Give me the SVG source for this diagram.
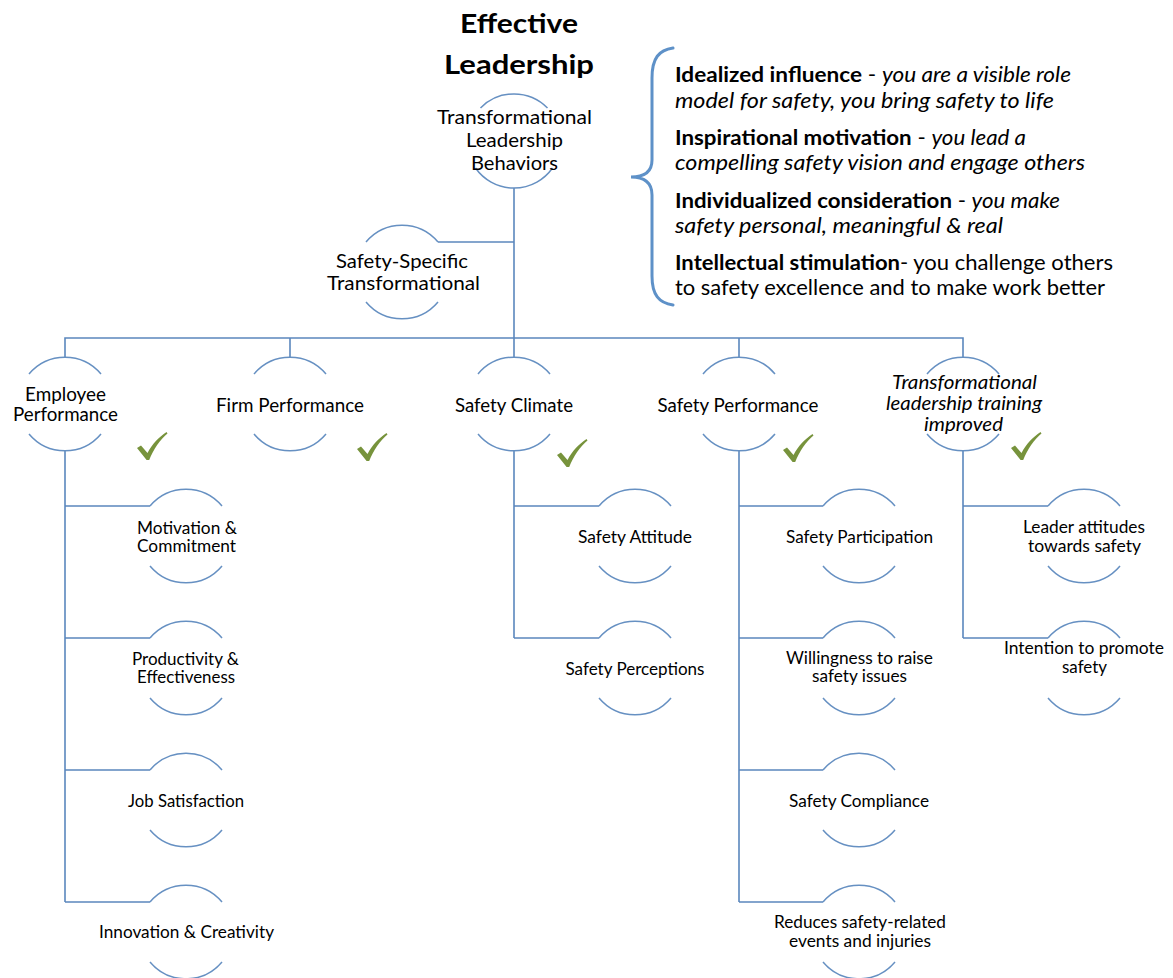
<svg xmlns="http://www.w3.org/2000/svg" xmlns:xlink="http://www.w3.org/1999/xlink" width="1173" height="978" viewBox="0 0 1173 978">
<defs>
<style>
text{font-family:Lato,"Open Sans","Liberation Sans",sans-serif;fill:#000;text-anchor:middle}
.title{font-size:27px;font-weight:bold}
.top{font-size:19px}
.l1{font-size:18.5px}
.sub{font-size:16.5px}
.it{font-style:italic}
.desc{font-size:21px;text-anchor:start}
.b{font-weight:bold}
.arc{fill:none;stroke:#6690C2;stroke-width:1.5}
.conn{fill:none;stroke:#5B87BD;stroke-width:1.6}
.brace{fill:none;stroke:#5E91C8;stroke-width:3;stroke-linecap:round}
.check{fill:#77933C}
</style>
<path id="nodeArcs" class="arc" d="M-36,-30 A47,47 0 0 1 36,-30 M-36,30 A47,47 0 0 0 36,30"/>
<path id="tick" class="check" d="M0,16 L4,13.5 L10.5,21 C15,12 22,5 29.5,0 L30.5,1.5 C23,8 16.5,17 12.2,28 L9.6,28 Z"/>
</defs>
<rect width="1173" height="978" fill="#fff"/>

<g id="connectors">
<path class="conn" d="M514,188 V338"/>
<path class="conn" d="M438,242 H514"/>
<path class="conn" d="M65,357 V338 H963 V357"/>
<path class="conn" d="M290,338 V357 M514,338 V357 M739,338 V357"/>
<path class="conn" d="M65,451 V902 M65,506 H150 M65,638 H150 M65,770 H150 M65,902 H150"/>
<path class="conn" d="M514,451 V638 M514,506 H599 M514,638 H599"/>
<path class="conn" d="M739,451 V902 M739,506 H823 M739,638 H823 M739,770 H823 M739,902 H823"/>
<path class="conn" d="M963,451 V638 M963,506 H1048 M963,638 H1048"/>
</g>

<g id="title">
<text class="title" x="519" y="33" textLength="118" lengthAdjust="spacingAndGlyphs">Effective</text>
<text class="title" x="519" y="74" textLength="150" lengthAdjust="spacingAndGlyphs">Leadership</text>
</g>

<g id="node-tlb">
<path class="arc" d="M480.5,108 A47,47 0 0 1 547.5,108 M475.5,168 A47,47 0 0 0 552.5,168"/>
<text class="top" x="514.5" y="124" textLength="155" lengthAdjust="spacingAndGlyphs">Transformational</text>
<text class="top" x="514.5" y="147" textLength="97" lengthAdjust="spacingAndGlyphs">Leadership</text>
<text class="top" x="514.5" y="170" textLength="87" lengthAdjust="spacingAndGlyphs">Behaviors</text>
</g>

<g id="node-sst">
<use xlink:href="#nodeArcs" href="#nodeArcs" x="402" y="272"/>
<text class="top" x="402" y="268" textLength="132" lengthAdjust="spacingAndGlyphs">Safety-Specific</text>
<text class="top" x="403.5" y="290" textLength="153" lengthAdjust="spacingAndGlyphs">Transformational</text>
</g>

<g id="brace">
<path class="brace" d="M673,48 C659,50 652,58 652,78 L652,160 C652,171 645,177 631,177 C645,177 652,183 652,195 L652,276 C652,295 659,303 673,305"/>
<text class="desc" x="675" y="82" textLength="396" lengthAdjust="spacingAndGlyphs"><tspan class="b">Idealized influence</tspan> - <tspan class="it">you are a visible role</tspan></text>
<text class="desc it" x="675" y="108" textLength="379" lengthAdjust="spacingAndGlyphs">model for safety, you bring safety to life</text>
<text class="desc" x="675" y="145" textLength="351" lengthAdjust="spacingAndGlyphs"><tspan class="b">Inspirational motivation</tspan> - <tspan class="it">you lead a</tspan></text>
<text class="desc it" x="675" y="170" textLength="410" lengthAdjust="spacingAndGlyphs">compelling safety vision and engage others</text>
<text class="desc" x="675" y="208" textLength="385" lengthAdjust="spacingAndGlyphs"><tspan class="b">Individualized consideration</tspan> - <tspan class="it">you make</tspan></text>
<text class="desc it" x="675" y="233" textLength="328" lengthAdjust="spacingAndGlyphs">safety personal, meaningful &amp; real</text>
<text class="desc" x="675" y="270" textLength="438" lengthAdjust="spacingAndGlyphs"><tspan class="b">Intellectual stimulation</tspan>- you challenge others</text>
<text class="desc" x="675" y="295" textLength="430" lengthAdjust="spacingAndGlyphs">to safety excellence and to make work better</text>
</g>

<g id="node-employee">
<use xlink:href="#nodeArcs" href="#nodeArcs" x="65" y="404"/>
<text class="l1" x="65.5" y="401" textLength="81" lengthAdjust="spacingAndGlyphs">Employee</text>
<text class="l1" x="65.5" y="421" textLength="105" lengthAdjust="spacingAndGlyphs">Performance</text>
<use xlink:href="#tick" href="#tick" x="137" y="432"/>
</g>
<g id="node-firm">
<use xlink:href="#nodeArcs" href="#nodeArcs" x="290" y="404"/>
<text class="l1" x="290" y="412" textLength="148" lengthAdjust="spacingAndGlyphs">Firm Performance</text>
<use xlink:href="#tick" href="#tick" x="357" y="433"/>
</g>
<g id="node-climate">
<use xlink:href="#nodeArcs" href="#nodeArcs" x="514" y="404"/>
<text class="l1" x="514" y="412" textLength="118" lengthAdjust="spacingAndGlyphs">Safety Climate</text>
<use xlink:href="#tick" href="#tick" x="557" y="439"/>
</g>
<g id="node-safetyperf">
<use xlink:href="#nodeArcs" href="#nodeArcs" x="739" y="404"/>
<text class="l1" x="738" y="412" textLength="161" lengthAdjust="spacingAndGlyphs">Safety Performance</text>
<use xlink:href="#tick" href="#tick" x="783" y="434"/>
</g>
<g id="node-training">
<use xlink:href="#nodeArcs" href="#nodeArcs" x="963" y="404"/>
<text class="l1 it" x="964.5" y="389" textLength="145" lengthAdjust="spacingAndGlyphs">Transformational</text>
<text class="l1 it" x="964" y="410" textLength="156" lengthAdjust="spacingAndGlyphs">leadership training</text>
<text class="l1 it" x="963.5" y="431" textLength="79" lengthAdjust="spacingAndGlyphs">improved</text>
<use xlink:href="#tick" href="#tick" x="1011" y="432"/>
</g>

<g id="node-motivation">
<use xlink:href="#nodeArcs" href="#nodeArcs" x="186" y="536"/>
<text class="sub" x="187" y="534" textLength="100" lengthAdjust="spacingAndGlyphs">Motivation &amp;</text>
<text class="sub" x="186.5" y="552" textLength="99" lengthAdjust="spacingAndGlyphs">Commitment</text>
</g>
<g id="node-productivity">
<use xlink:href="#nodeArcs" href="#nodeArcs" x="186" y="668"/>
<text class="sub" x="185.5" y="665" textLength="107" lengthAdjust="spacingAndGlyphs">Productivity &amp;</text>
<text class="sub" x="186" y="683" textLength="98" lengthAdjust="spacingAndGlyphs">Effectiveness</text>
</g>
<g id="node-jobsat">
<use xlink:href="#nodeArcs" href="#nodeArcs" x="186" y="800"/>
<text class="sub" x="186" y="807" textLength="116" lengthAdjust="spacingAndGlyphs">Job Satisfaction</text>
</g>
<g id="node-innovation">
<use xlink:href="#nodeArcs" href="#nodeArcs" x="186" y="932"/>
<text class="sub" x="186.5" y="938" textLength="175" lengthAdjust="spacingAndGlyphs">Innovation &amp; Creativity</text>
</g>

<g id="node-attitude">
<use xlink:href="#nodeArcs" href="#nodeArcs" x="635" y="536"/>
<text class="sub" x="635" y="543" textLength="114" lengthAdjust="spacingAndGlyphs">Safety Attitude</text>
</g>
<g id="node-perceptions">
<use xlink:href="#nodeArcs" href="#nodeArcs" x="635" y="668"/>
<text class="sub" x="635" y="675" textLength="139" lengthAdjust="spacingAndGlyphs">Safety Perceptions</text>
</g>

<g id="node-participation">
<use xlink:href="#nodeArcs" href="#nodeArcs" x="859" y="536"/>
<text class="sub" x="859.5" y="543" textLength="147" lengthAdjust="spacingAndGlyphs">Safety Participation</text>
</g>
<g id="node-willingness">
<use xlink:href="#nodeArcs" href="#nodeArcs" x="859" y="668"/>
<text class="sub" x="859.5" y="664" textLength="147" lengthAdjust="spacingAndGlyphs">Willingness to raise</text>
<text class="sub" x="859.5" y="682" textLength="95" lengthAdjust="spacingAndGlyphs">safety issues</text>
</g>
<g id="node-compliance">
<use xlink:href="#nodeArcs" href="#nodeArcs" x="859" y="800"/>
<text class="sub" x="859" y="807" textLength="140" lengthAdjust="spacingAndGlyphs">Safety Compliance</text>
</g>
<g id="node-reduces">
<use xlink:href="#nodeArcs" href="#nodeArcs" x="859" y="932"/>
<text class="sub" x="860" y="928" textLength="172" lengthAdjust="spacingAndGlyphs">Reduces safety-related</text>
<text class="sub" x="860" y="947" textLength="142" lengthAdjust="spacingAndGlyphs">events and injuries</text>
</g>

<g id="node-leader">
<use xlink:href="#nodeArcs" href="#nodeArcs" x="1084" y="536"/>
<text class="sub" x="1084" y="533" textLength="122" lengthAdjust="spacingAndGlyphs">Leader attitudes</text>
<text class="sub" x="1084.5" y="552" textLength="113" lengthAdjust="spacingAndGlyphs">towards safety</text>
</g>
<g id="node-intention">
<use xlink:href="#nodeArcs" href="#nodeArcs" x="1084" y="668"/>
<text class="sub" x="1084" y="654" textLength="160" lengthAdjust="spacingAndGlyphs">Intention to promote</text>
<text class="sub" x="1084.5" y="673" textLength="45" lengthAdjust="spacingAndGlyphs">safety</text>
</g>
</svg>
